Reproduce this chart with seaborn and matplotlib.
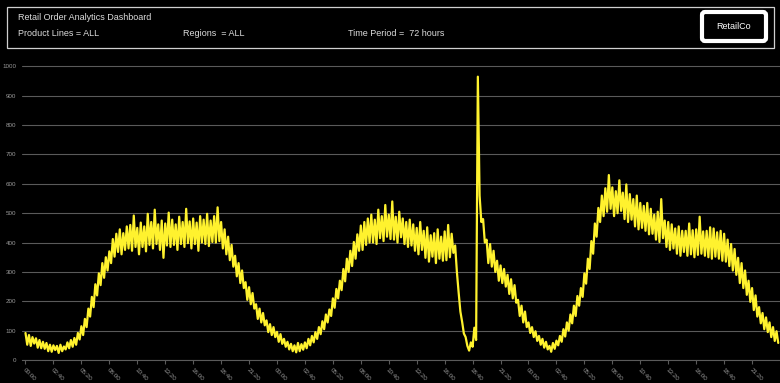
"""
plot.py
Retail order volume dashboard (72 hours, 10-minute samples).
"""
import pandas as pd
import matplotlib.pyplot as plt
import matplotlib.dates as mdates
from matplotlib.patches import Rectangle, FancyBboxPatch
from matplotlib.transforms import IdentityTransform
import seaborn as sns

LINE_COLOR = "#FFF22E"
GRID_COLOR = "#5a5a5a"
TICK_COLOR = "#9a9a9a"

# orders per 10-minute interval, six values per hour
DAY1 = [
    92, 52, 85, 48, 78, 56,      74, 42, 68, 40, 62, 38,
    58, 30, 52, 28, 50, 34,      48, 24, 52, 30, 46, 36,
    60, 40, 68, 45, 75, 52,      92, 70, 115, 85, 140, 112,
    175, 148, 215, 180, 258, 220,   295, 255, 330, 280, 350, 305,
    370, 330, 412, 352, 430, 368,   445, 360, 432, 375, 455, 380,
    460, 372, 492, 385, 450, 360,   468, 385, 455, 370, 498, 392,
    470, 380, 512, 395, 462, 375,   475, 348, 465, 390, 502, 385,
    478, 392, 462, 375, 488, 395,   470, 385, 515, 398, 472, 380,
    482, 395, 468, 372, 490, 400,   478, 395, 498, 388, 475, 402,
    490, 400, 520, 405, 470, 380,   445, 360, 420, 340, 392, 318,
    355, 285, 330, 262, 305, 245,   265, 205, 248, 190, 228, 175,
    190, 140, 175, 128, 160, 118,   135, 95, 122, 85, 112, 78,
]
DAY2 = [
    96, 62, 88, 55, 72, 45,      62, 36, 55, 30, 50, 26,
    58, 30, 54, 35, 60, 40,      72, 50, 82, 60, 95, 72,
    112, 88, 132, 105, 155, 128,   172, 150, 210, 178, 242, 210,
    270, 238, 310, 268, 345, 300,   372, 320, 402, 345, 428, 372,
    458, 375, 470, 392, 482, 400,   495, 400, 478, 395, 512, 415,
    490, 405, 528, 420, 495, 412,   540, 410, 488, 400, 505, 418,
    482, 395, 470, 385, 478, 390,   462, 372, 450, 360, 470, 375,
    440, 348, 452, 335, 425, 352,   432, 330, 445, 345, 420, 338,
    438, 340, 460, 350, 430, 365,   390, 300, 230, 165, 130, 90,
    78, 48, 32, 60, 45, 110,     68, 965, 560, 470, 480, 400,
    410, 330, 395, 318, 372, 300,   338, 270, 322, 262, 310, 250,
    290, 225, 275, 210, 255, 195,   205, 150, 185, 128, 165, 112,
]
DAY3 = [
    128, 92, 112, 78, 98, 65,    82, 52, 72, 42, 62, 36,
    48, 28, 58, 38, 66, 50,      82, 62, 105, 80, 128, 100,
    155, 125, 185, 150, 218, 185,   245, 215, 295, 260, 345, 310,
    405, 362, 465, 420, 518, 470,   560, 490, 585, 505, 630, 515,
    588, 490, 575, 500, 612, 508,   570, 480, 598, 470, 565, 478,
    548, 455, 560, 445, 535, 450,   525, 440, 535, 428, 515, 430,
    495, 410, 505, 402, 548, 415,   475, 385, 470, 375, 462, 380,
    448, 362, 455, 355, 440, 368,   440, 355, 465, 360, 442, 350,
    445, 358, 488, 362, 438, 355,   440, 350, 452, 345, 448, 352,
    435, 345, 440, 338, 430, 335,   410, 320, 395, 305, 378, 290,
    348, 262, 330, 245, 305, 222,   270, 198, 245, 170, 220, 148,
    180, 125, 160, 105, 145, 95,    128, 78, 112, 65, 98, 58,
]
Y_TICKS = [0, 100, 200, 300, 400, 500, 600, 700, 800, 900, 1000]

TITLE = "Retail Order Analytics Dashboard"
FILTERS = ["Product Lines = ALL", "Regions  = ALL", "Time Period =  72 hours"]
BRAND = "RetailCo"

orders = DAY1 + DAY2 + DAY3
start = pd.Timestamp("2024-03-01 00:00")
times = pd.date_range(start, periods=len(orders), freq="10min")
df = pd.DataFrame({"time": times, "orders": orders})

sns.set_theme(style="dark")
plt.rcParams["font.family"] = ["Liberation Sans", "DejaVu Sans"]

W, H = 780, 383
fig = plt.figure(figsize=(W / 100, H / 100), dpi=100, facecolor="black")
ax = fig.add_axes([22 / W, 23 / H, 758 / W, 298 / H])
ax.set_facecolor("black")

sns.lineplot(data=df, x="time", y="orders", color=LINE_COLOR,
             linewidth=1.6, ax=ax)

ax.set_ylim(0, 1015)
ax.set_yticks(Y_TICKS)
ax.set_xlim(start - pd.Timedelta(minutes=20), start + pd.Timedelta(hours=72))
ax.set_xticks(pd.date_range(start, periods=27, freq="160min"))
ax.xaxis.set_major_formatter(mdates.DateFormatter("%H:%M"))
ax.set_xlabel("")
ax.set_ylabel("")

ax.grid(axis="y", color=GRID_COLOR, linewidth=0.8)
ax.grid(axis="x", visible=False)
for side in ["top", "right", "left"]:
    ax.spines[side].set_visible(False)
ax.spines["bottom"].set_color(GRID_COLOR)
ax.spines["bottom"].set_linewidth(0.8)
ax.tick_params(axis="y", length=2, width=0.8, color=GRID_COLOR,
               labelsize=4.5, labelcolor=TICK_COLOR, pad=2)
ax.tick_params(axis="x", length=3, width=0.8, color=GRID_COLOR, bottom=True,
               labelsize=4.5, labelcolor=TICK_COLOR, pad=2)
for lbl in ax.get_xticklabels():
    lbl.set_rotation(-45)
    lbl.set_ha("left")
    lbl.set_rotation_mode("anchor")

# header panel
px = IdentityTransform()
fig.patches.append(Rectangle((6.5, H - 47.5), 767, 41, fill=False,
                             edgecolor="#d0d0d0", linewidth=0.9,
                             transform=px, figure=fig))
fig.patches.append(FancyBboxPatch((702, H - 41), 64, 29,
                                  boxstyle="round,pad=0,rounding_size=3",
                                  facecolor="black", edgecolor="white",
                                  linewidth=3, transform=px, figure=fig))
fig.text(18 / W, 1 - 18 / H, TITLE, color="#dcdcdc", fontsize=6.5, va="center")
for x, label in zip([18, 183, 348], FILTERS):
    fig.text(x / W, 1 - 34 / H, label, color="#dcdcdc", fontsize=6.5,
             va="center")
fig.text(734 / W, 1 - 26.5 / H, BRAND, color="white", fontsize=6.5,
         ha="center", va="center")

fig.savefig("out.png", dpi=100, facecolor="black")
